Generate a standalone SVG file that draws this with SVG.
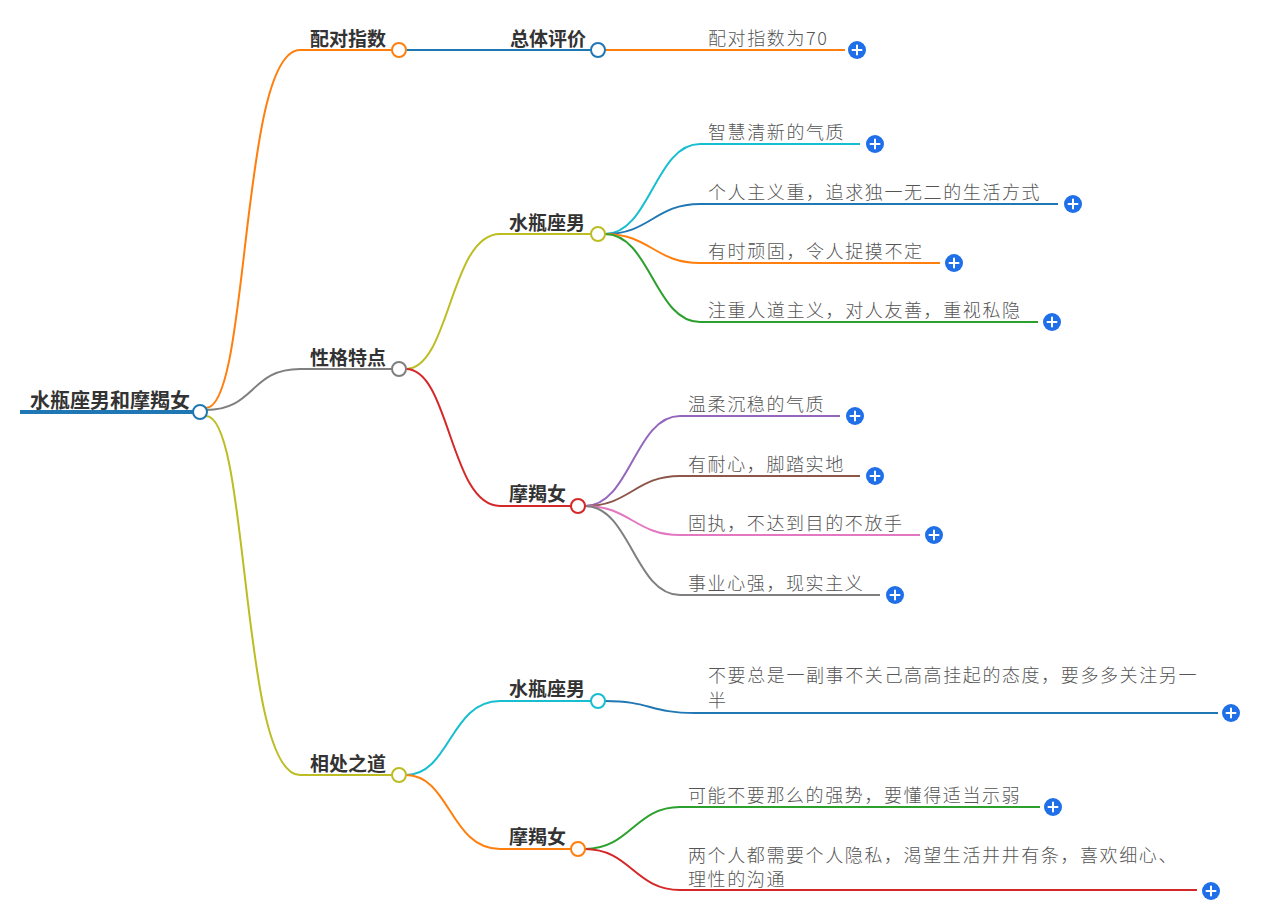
<svg xmlns="http://www.w3.org/2000/svg" width="1279" height="914" viewBox="0 0 1279 914">
<style>
.b{font-family:"Noto Sans CJK SC","Noto Sans",sans-serif;font-weight:700;font-size:19px;fill:#333}
.t{font-family:"Noto Sans CJK SC","Noto Sans",sans-serif;font-weight:300;font-size:18px;fill:#555;letter-spacing:1.6px}
.l{fill:none;stroke-width:2}
.n{fill:#fff;stroke-width:2}
.pc{fill:#1f6fe8}
.pl{stroke:#fff;stroke-width:2;stroke-linecap:round}
</style>
<defs>
<g id="plus"><circle class="pc" r="9"/><path class="pl" d="M-4.5,0H4.5M0,-4.5V4.5"/></g>
</defs>
<rect width="1279" height="914" fill="#fff"/>
<g id="connectors">
<path d="M20,412H194" stroke="#1f77b4" stroke-width="4" fill="none"/>
<path class="l" stroke="#ff7f0e" d="M206,408C250,408 240,50 300,50H392"/>
<path class="l" stroke="#7f7f7f" d="M206,410C255,410 250,369 300,369H392"/>
<path class="l" stroke="#bcbd22" d="M206,416C250,416 240,775 300,775H392"/>
<path class="l" stroke="#1f77b4" d="M406,50H591"/>
<path class="l" stroke="#ff7f0e" d="M605,50H845"/>
<path class="l" stroke="#bcbd22" d="M406,369C450,369 450,234 500,234H591"/>
<path class="l" stroke="#d62728" d="M406,369C450,369 450,506 500,506H571"/>
<path class="l" stroke="#17becf" d="M605,234C650,234 655,144 700,144H860"/>
<path class="l" stroke="#1f77b4" d="M605,234C650,234 655,204 700,204H1058"/>
<path class="l" stroke="#ff7f0e" d="M605,234C650,234 655,263 700,263H940"/>
<path class="l" stroke="#2ca02c" d="M605,234C650,234 655,322 700,322H1038"/>
<path class="l" stroke="#9467bd" d="M585,506C630,506 635,416 680,416H840"/>
<path class="l" stroke="#8c564b" d="M585,506C630,506 635,476 680,476H860"/>
<path class="l" stroke="#e377c2" d="M585,506C630,506 635,535 680,535H920"/>
<path class="l" stroke="#7f7f7f" d="M585,506C630,506 635,595 680,595H880"/>
<path class="l" stroke="#17becf" d="M406,775C450,775 450,701 500,701H591"/>
<path class="l" stroke="#ff7f0e" d="M406,775C450,775 450,849 500,849H571"/>
<path class="l" stroke="#1f77b4" d="M605,701C650,701 650,713 695,713H1218"/>
<path class="l" stroke="#2ca02c" d="M585,849C630,849 635,807 680,807H1040"/>
<path class="l" stroke="#d62728" d="M585,849C630,849 635,890 680,890H1197"/>
</g>
<g id="root"><text class="b" x="30" y="408" style="font-size:20px">水瓶座男和摩羯女</text><circle class="n" cx="200" cy="412" r="7" stroke="#1f77b4"/></g>
<g id="n-peidui"><text class="b" x="310" y="46">配对指数</text><circle class="n" cx="399" cy="50" r="7" stroke="#ff7f0e"/></g>
<g id="n-xingge"><text class="b" x="310" y="365">性格特点</text><circle class="n" cx="399" cy="369" r="7" stroke="#7f7f7f"/></g>
<g id="n-xiangchu"><text class="b" x="310" y="771">相处之道</text><circle class="n" cx="399" cy="775" r="7" stroke="#bcbd22"/></g>
<g id="n-zongti"><text class="b" x="510" y="46">总体评价</text><circle class="n" cx="598" cy="50" r="7" stroke="#1f77b4"/></g>
<g id="leaf-70"><text class="t" x="708" y="45">配对指数为70</text><use href="#plus" x="857" y="50"/></g>
<g id="n-sp1"><text class="b" x="509" y="230">水瓶座男</text><circle class="n" cx="598" cy="234" r="7" stroke="#bcbd22"/></g>
<g id="n-mj1"><text class="b" x="509" y="501">摩羯女</text><circle class="n" cx="578" cy="506" r="7" stroke="#d62728"/></g>
<g id="leaf-1"><text class="t" x="708" y="139">智慧清新的气质</text><use href="#plus" x="875" y="144"/></g>
<g id="leaf-2"><text class="t" x="708" y="199">个人主义重，追求独一无二的生活方式</text><use href="#plus" x="1073" y="204"/></g>
<g id="leaf-3"><text class="t" x="708" y="258">有时顽固，令人捉摸不定</text><use href="#plus" x="954" y="263"/></g>
<g id="leaf-4"><text class="t" x="708" y="317">注重人道主义，对人友善，重视私隐</text><use href="#plus" x="1052" y="322"/></g>
<g id="leaf-5"><text class="t" x="688" y="411">温柔沉稳的气质</text><use href="#plus" x="855" y="416"/></g>
<g id="leaf-6"><text class="t" x="688" y="471">有耐心，脚踏实地</text><use href="#plus" x="875" y="476"/></g>
<g id="leaf-7"><text class="t" x="688" y="530">固执，不达到目的不放手</text><use href="#plus" x="934" y="535"/></g>
<g id="leaf-8"><text class="t" x="688" y="590">事业心强，现实主义</text><use href="#plus" x="895" y="595"/></g>
<g id="n-sp2"><text class="b" x="509" y="696">水瓶座男</text><circle class="n" cx="598" cy="701" r="7" stroke="#17becf"/></g>
<g id="n-mj2"><text class="b" x="509" y="844">摩羯女</text><circle class="n" cx="578" cy="849" r="7" stroke="#ff7f0e"/></g>
<g id="leaf-9"><text class="t" x="708" y="682">不要总是一副事不关己高高挂起的态度，要多多关注另一</text><text class="t" x="708" y="707">半</text><use href="#plus" x="1231" y="713"/></g>
<g id="leaf-10"><text class="t" x="688" y="802">可能不要那么的强势，要懂得适当示弱</text><use href="#plus" x="1053" y="807"/></g>
<g id="leaf-11"><text class="t" x="688" y="862">两个人都需要个人隐私，渴望生活井井有条，喜欢细心、</text><text class="t" x="688" y="886">理性的沟通</text><use href="#plus" x="1211" y="891"/></g>
</svg>
